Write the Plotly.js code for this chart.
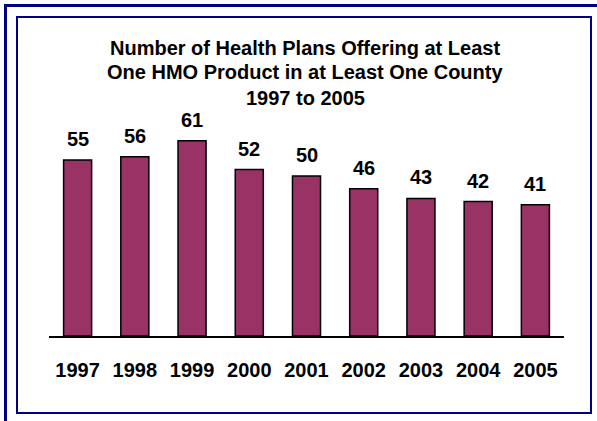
<!DOCTYPE html>
<html>
<head>
<meta charset="utf-8">
<script src="https://cdn.plot.ly/plotly-3.0.1.min.js"></script>
<style>
html,body{margin:0;padding:0;background:#fff;}
#chart{width:597px;height:421px;}
</style>
</head>
<body>
<div id="chart"></div>
<script>
var years = ["1997","1998","1999","2000","2001","2002","2003","2004","2005"];
var plans = [55, 56, 61, 52, 50, 46, 43, 42, 41];
var titleLines = ["Number of Health Plans Offering at Least", "One HMO Product in at Least One County", "1997 to 2005"];

var W = 597, H = 421;
var L = 49, R = 33, T = 112, B = 85;
var pw = W - L - R, ph = H - T - B;
function px(x){ return (x - L) / pw; }
function py(y){ return (H - B - y) / ph; }

var FONT = "Arial, 'Liberation Sans', sans-serif";
var navy = "#000080";

var annotations = [];
var titleY = [47.5, 72.5, 97.5];
titleLines.forEach(function(t, i){
  annotations.push({
    text: "<b>" + t + "</b>", xref: "paper", yref: "paper",
    x: px(305), y: py(titleY[i]), xanchor: "center", yanchor: "middle",
    showarrow: false, font: {family: FONT, size: 20, color: "#000"}
  });
});
years.forEach(function(yr, i){
  annotations.push({
    text: "<b>" + plans[i] + "</b>", x: i, y: plans[i], xref: "x", yref: "y",
    xanchor: "center", yanchor: "bottom", yshift: 8, showarrow: false,
    font: {family: FONT, size: 20, color: "#000"}
  });
});

var shapes = [
  {type: "line", xref: "paper", yref: "paper", x0: px(4), x1: px(597), y0: py(5.5), y1: py(5.5), line: {color: navy, width: 3}},
  {type: "line", xref: "paper", yref: "paper", x0: px(5.5), x1: px(5.5), y0: py(4), y1: py(421), line: {color: navy, width: 3}},
  {type: "rect", xref: "paper", yref: "paper", x0: px(17), x1: px(591), y0: py(17), y1: py(413), line: {color: navy, width: 2}}
];

var trace = {
  type: "bar", x: years, y: plans,
  marker: {color: "#993366", line: {color: "#000", width: 1.5}},
  hoverinfo: "x+y"
};

var layout = {
  width: W, height: H,
  margin: {l: L, r: R, t: T, b: B, pad: 0},
  paper_bgcolor: "#fff", plot_bgcolor: "#fff",
  showlegend: false,
  bargap: 0.51,
  xaxis: {
    type: "category", range: [-0.5, 8.5],
    showline: true, linecolor: "#000", linewidth: 2,
    ticks: "outside", ticklen: 15, tickcolor: "rgba(0,0,0,0)",
    tickfont: {family: FONT, size: 20, color: "#000", weight: "bold"},
    showgrid: false, zeroline: false, fixedrange: true
  },
  yaxis: {
    range: [0, 70], visible: false, showgrid: false, zeroline: false, fixedrange: true
  },
  annotations: annotations,
  shapes: shapes
};

Plotly.newPlot("chart", [trace], layout, {displayModeBar: false, staticPlot: true});
</script>
</body>
</html>
